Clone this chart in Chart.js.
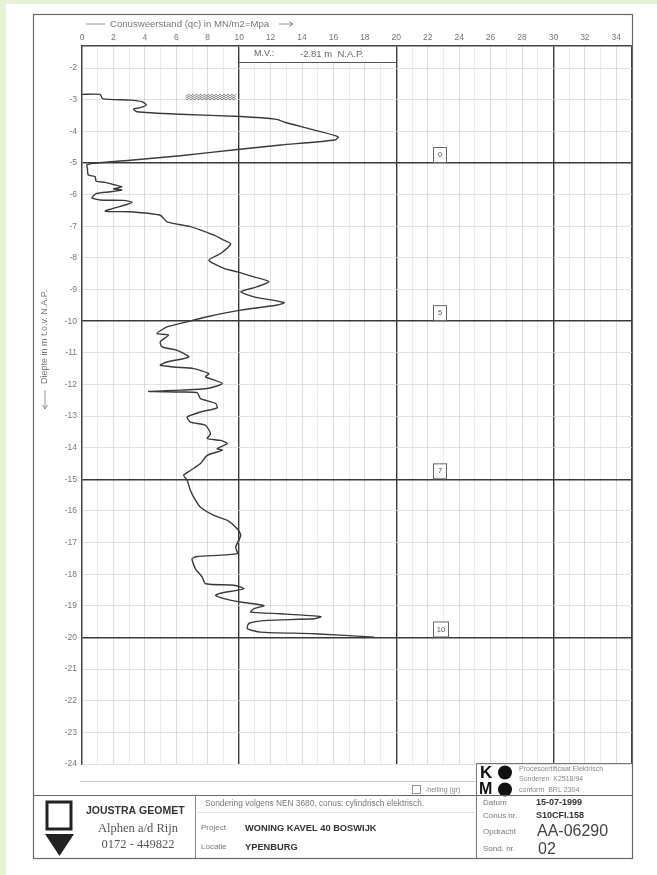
<!DOCTYPE html>
<html>
<head>
<meta charset="utf-8">
<script src="https://cdn.jsdelivr.net/npm/chart.js@4.4.1/dist/chart.umd.min.js"></script>
<style>
  html, body { margin: 0; padding: 0; background: #e5f2d5; }
  #wrap { width: 657px; height: 875px; }
</style>
</head>
<body>
<div id="wrap"><canvas id="sondering" width="657" height="875"></canvas></div>
<script>
// conusweerstand qc (MPa) tegen diepte (m t.o.v. NAP)
var depth = [-2.83,-2.83,-2.97,-3.01,-3.06,-3.16,-3.25,-3.29,-3.38,-3.46,-3.53,-3.62,-3.71,-3.96,-4.17,-4.27,-4.43,-4.57,-4.77,-4.91,-5.01,-5.06,
  -5.15,-5.38,-5.43,-5.57,-5.61,-5.68,-5.75,-5.82,-5.85,-5.91,-5.96,-6.10,-6.17,-6.18,-6.24,-6.31,-6.52,-6.54,-6.65,-6.86,-7.01,-7.28,-7.44,-7.56,-7.86,-8.07,
  -8.33,-8.44,-8.60,-8.75,-8.91,-9.07,-9.23,-9.41,-9.49,-9.65,-9.86,-10.07,-10.18,-10.39,-10.44,-10.65,-10.81,-10.92,-11.13,-11.29,-11.39,-11.45,-11.50,-11.66,-11.76,-11.97,-12.13,-12.18,-12.22,-12.24,-12.26,-12.45,-12.60,-12.74,-12.87,-13.03,-13.19,-13.29,-13.56,-13.71,-13.77,-13.87,-14.03,-14.08,
  -14.24,-14.50,-14.72,-14.87,-15.03,-15.35,-15.66,-15.88,-16.14,-16.30,-16.56,-16.77,-17.14,-17.35,-17.44,-17.51,-17.83,-18.09,-18.30,-18.35,-18.46,-18.60,-18.67,-18.77,-18.88,-18.99,-19.09,-19.20,-19.25,-19.34,-19.41,-19.46,-19.55,-19.72,-19.83,-19.88,-19.99];
var qc = [0,1.15,1.32,3.07,3.81,4.09,3.71,3.28,3.49,6.26,10.1,12.4,12.9,14.8,16.3,16.1,12.65,9.88,6.26,3.07,0.72,0.3,
  0.34,0.4,0.83,0.9,1.47,2.0,2.54,2.0,2.54,1.79,0.94,0.62,1.15,2.64,3.18,2.86,1.47,3.07,4.98,5.41,6.9,8.39,9.03,9.46,8.82,8.07,
  9.03,9.88,10.95,11.9,11.16,10.1,10.95,12.86,12.44,10.1,7.97,6.26,5.41,4.77,5.51,4.98,5.09,6.05,6.79,5.41,4.98,5.84,7.11,8.07,7.86,8.93,7.97,6.26,4.24,6.05,7.33,7.54,8.5,8.6,7.54,6.69,6.9,7.86,8.18,7.97,8.82,9.25,8.6,8.93,
  7.97,7.54,6.9,6.47,6.69,6.9,7.22,7.54,8.39,9.25,9.88,10.1,9.78,9.88,7.33,7.0,7.22,7.65,7.86,9.67,10.3,8.82,8.5,9.03,10.1,11.58,10.95,10.73,12.65,15.2,14.78,11.8,10.63,10.52,11.37,14.78,18.6];

// helling (graden) bij de dikke lijnen
var hellingDepth = [-5, -10, -15, -20];
var hellingValue = ["0", "5", "7", "10"];

var qcTicks = [];
for (var i = 0; i <= 35; i++) qcTicks.push(i);
var depthTicks = [];
for (var d = -2; d >= -24; d--) depthTicks.push(d);

var FONT = '"Liberation Sans", Arial, sans-serif';
var SERIF = '"Liberation Serif", "Times New Roman", serif';

function txt(c, s, x, y, font, color, align) {
  c.font = font;
  c.fillStyle = color || '#555';
  c.textAlign = align || 'left';
  c.textBaseline = 'middle';
  c.fillText(s, x, y);
}
function line(c, x1, y1, x2, y2, color, w) {
  c.beginPath();
  c.strokeStyle = color || '#555';
  c.lineWidth = w || 1;
  c.moveTo(x1, y1);
  c.lineTo(x2, y2);
  c.stroke();
}

var sheet = {
  id: 'sheet',
  beforeDraw: function (chart) {
    var c = chart.ctx;
    c.save();
    c.fillStyle = '#e5f2d5';
    c.fillRect(0, 0, 657, 875);
    c.fillStyle = '#ffffff';
    c.fillRect(6, 4, 651, 871);
    c.restore();
  },
  beforeDatasetsDraw: function (chart) {
    var c = chart.ctx, x = chart.scales.x, a = chart.chartArea;
    c.save();
    // M.V. vak
    var l = x.getPixelForValue(10), r = x.getPixelForValue(20);
    c.fillStyle = '#fff';
    c.fillRect(l + 1, a.top + 1, r - l - 2, 15);
    line(c, l, a.top + 16.5, r, a.top + 16.5, '#555', 1);
    txt(c, 'M.V.:', 254, a.top + 8, '9px ' + FONT, '#666');
    txt(c, '-2.81 m  N.A.P.', 300, a.top + 8, '9.5px ' + FONT, '#666');
    c.restore();
  },
  afterDatasetsDraw: function (chart) {
    var c = chart.ctx, x = chart.scales.x, y = chart.scales.y;
    c.save();
    // gearceerd vak (voorgeboord)
    var hx1 = x.getPixelForValue(6.6), hx2 = x.getPixelForValue(9.8);
    var hy1 = y.getPixelForValue(-2.82), hy2 = y.getPixelForValue(-3.0);
    c.strokeStyle = '#555';
    c.lineWidth = 0.8;
    for (var row = hy1 + 1; row < hy2; row += 2) {
      c.beginPath();
      for (var px = hx1; px <= hx2; px += 1) {
        var yy = row + Math.sin((px - hx1) * 1.6) * 0.9;
        if (px === hx1) c.moveTo(px, yy); else c.lineTo(px, yy);
      }
      c.stroke();
    }
    // helling vakjes
    var bx = x.getPixelForValue(22.4);
    for (var k = 0; k < hellingDepth.length; k++) {
      var by = y.getPixelForValue(hellingDepth[k]);
      var w = hellingValue[k].length > 1 ? 16 : 14;
      c.fillStyle = '#fff';
      c.fillRect(bx - 1, by - 15, w, 14);
      c.strokeStyle = '#666';
      c.lineWidth = 1;
      c.strokeRect(bx - 0.5, by - 15.5, w - 1, 15);
      txt(c, hellingValue[k], bx + w / 2 - 1, by - 8, '7.5px ' + FONT, '#555', 'center');
    }
    c.restore();
  },
  afterDraw: function (chart) {
    var c = chart.ctx;
    c.save();
    // kader
    c.strokeStyle = '#666';
    c.lineWidth = 1.2;
    c.strokeRect(33.5, 14.5, 599, 844);

    // as-titels
    line(c, 86, 24, 105, 24, '#777', 0.8);
    txt(c, 'Conusweerstand (qc) in MN/m2=Mpa', 110, 24, '9.6px ' + FONT, '#777');
    line(c, 279, 24, 293, 24, '#777', 0.8);
    line(c, 289, 21.5, 293, 24, '#777', 0.8);
    line(c, 289, 26.5, 293, 24, '#777', 0.8);

    c.save();
    c.translate(45, 384);
    c.rotate(-Math.PI / 2);
    txt(c, 'Diepte in m t.o.v. N.A.P.', 0, 0, '9px ' + FONT, '#777');
    c.restore();
    line(c, 45, 390, 45, 409, '#777', 0.8);
    line(c, 42.5, 405, 45, 409, '#777', 0.8);
    line(c, 47.5, 405, 45, 409, '#777', 0.8);

    // onder de grafiek
    line(c, 80, 781.5, 476, 781.5, '#bbb', 0.8);
    c.strokeStyle = '#777';
    c.lineWidth = 0.8;
    c.strokeRect(412.5, 785.5, 8, 8);
    txt(c, '-helling (gr)', 425, 790, '7px ' + FONT, '#888');

    // KOMO blok
    c.strokeStyle = '#777';
    c.lineWidth = 1;
    c.beginPath();
    c.moveTo(476.5, 858); c.lineTo(476.5, 763.5); c.lineTo(632, 763.5);
    c.stroke();
    txt(c, 'K', 480, 773, 'bold 17px ' + FONT, '#111');
    txt(c, 'M', 479, 790, 'bold 16px ' + FONT, '#111');
    c.fillStyle = '#111';
    c.beginPath(); c.arc(505, 772.5, 7, 0, Math.PI * 2); c.fill();
    c.beginPath(); c.arc(505, 789.5, 7, 0, Math.PI * 2); c.fill();
    txt(c, 'Procescertificaat Elektrisch', 519, 769, '7px ' + FONT, '#888');
    txt(c, 'Sonderen  K2518/94', 519, 779.5, '7px ' + FONT, '#888');
    txt(c, 'conform  BRL 2304', 519, 790, '7px ' + FONT, '#888');

    // titelblok
    line(c, 33, 795.5, 632, 795.5, '#666', 1.2);
    line(c, 195.5, 795.5, 195.5, 858, '#888', 1);
    line(c, 195.5, 812.5, 476.5, 812.5, '#ddd', 0.8);

    c.strokeStyle = '#222';
    c.lineWidth = 3;
    c.strokeRect(47, 802, 24, 27);
    c.fillStyle = '#222';
    c.beginPath();
    c.moveTo(45, 834); c.lineTo(74, 834); c.lineTo(59.5, 856); c.closePath();
    c.fill();

    txt(c, 'JOUSTRA GEOMET', 86, 811, 'bold 10.5px ' + FONT, '#333');
    txt(c, 'Alphen a/d Rijn', 138, 829, '12.5px ' + SERIF, '#555', 'center');
    txt(c, '0172 - 449822', 138, 845, '12.5px ' + SERIF, '#555', 'center');

    txt(c, 'Sondering volgens NEN 3680, conus: cylindrisch elektrisch.', 205, 804, '8.3px ' + FONT, '#777');
    txt(c, 'Project', 201, 828, '8px ' + FONT, '#777');
    txt(c, 'WONING KAVEL 40 BOSWIJK', 245, 828, 'bold 9.3px ' + FONT, '#333');
    txt(c, 'Locatie', 201, 847, '8px ' + FONT, '#777');
    txt(c, 'YPENBURG', 245, 847, 'bold 9.3px ' + FONT, '#333');

    txt(c, 'Datum', 483, 803, '8px ' + FONT, '#777');
    txt(c, '15-07-1999', 536, 803, 'bold 9px ' + FONT, '#333');
    txt(c, 'Conus nr.', 483, 816, '8px ' + FONT, '#777');
    txt(c, 'S10CFI.158', 536, 816, 'bold 9px ' + FONT, '#333');
    txt(c, 'Opdracht', 483, 832, '8px ' + FONT, '#777');
    txt(c, 'AA-06290', 537, 832, '16px ' + FONT, '#444');
    txt(c, 'Sond. nr.', 483, 849, '8px ' + FONT, '#777');
    txt(c, '02', 538, 850, '16px ' + FONT, '#444');
    c.restore();
  }
};

function isMajorQc(v) { return v > 0 && v % 10 === 0; }
function isMajorDepth(v) { return v % 5 === 0; }

var ctx = document.getElementById('sondering');
var chart = new Chart(ctx, {
  type: 'scatter',
  data: {
    datasets: [{
      label: 'Conusweerstand',
      data: depth.map(function (d, i) { return { x: qc[i], y: d }; }),
      showLine: true,
      borderColor: '#3a3a3a',
      borderWidth: 1.4,
      pointRadius: 0,
      tension: 0.2,
      fill: false
    }]
  },
  options: {
    responsive: false,
    animation: false,
    layout: { padding: { left: 40, top: 30, right: 25, bottom: 111 } },
    plugins: { legend: { display: false }, tooltip: { enabled: false } },
    scales: {
      x: {
        type: 'linear',
        position: 'top',
        min: 0,
        max: 35,
        afterBuildTicks: function (s) { s.ticks = qcTicks.map(function (v) { return { value: v }; }); },
        afterFit: function (s) { s.height = 16; },
        ticks: {
          autoSkip: false,
          maxRotation: 0,
          padding: 3,
          color: '#777',
          font: { size: 8.5, family: FONT },
          callback: function (v) { return (v % 2 === 0 && v <= 34) ? String(v) : ''; }
        },
        grid: {
          drawTicks: false,
          color: function (c) {
            var v = c.tick ? c.tick.value : 0;
            if (isMajorQc(v) || v === 35) return '#3a3a3a';
            return v % 2 === 0 ? '#cfcfcf' : '#e4e4e4';
          },
          lineWidth: function (c) {
            var v = c.tick ? c.tick.value : 0;
            return (isMajorQc(v) || v === 35) ? 1.4 : 0.7;
          }
        },
        border: { color: '#444', width: 1.4 }
      },
      y: {
        type: 'linear',
        min: -24,
        max: -1.3,
        afterBuildTicks: function (s) { s.ticks = depthTicks.map(function (v) { return { value: v }; }); },
        afterFit: function (s) { s.width = 42; },
        ticks: {
          autoSkip: false,
          padding: 5,
          color: '#777',
          font: { size: 8.5, family: FONT }
        },
        grid: {
          drawTicks: false,
          color: function (c) {
            var v = c.tick ? c.tick.value : 0;
            return isMajorDepth(v) && v > -24 ? '#3a3a3a' : '#d6d6d6';
          },
          lineWidth: function (c) {
            var v = c.tick ? c.tick.value : 0;
            return isMajorDepth(v) && v > -24 ? 1.4 : 0.7;
          }
        },
        border: { color: '#444', width: 1.4 }
      }
    }
  },
  plugins: [sheet]
});
</script>
</body>
</html>
